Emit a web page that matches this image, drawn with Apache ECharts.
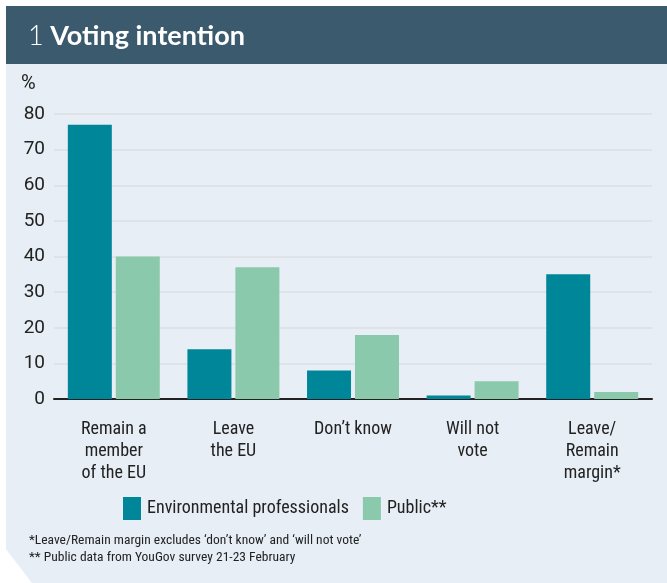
<!DOCTYPE html>
<html><head><meta charset="utf-8">
<script src="https://cdn.jsdelivr.net/npm/echarts@6/dist/echarts.min.js"></script>
<style>html,body{margin:0;padding:0;background:#fff}#c{width:667px;height:583px}</style>
</head><body><div id="c"></div>
<script>
const categories = ['Remain a\nmember\nof the EU', 'Leave\nthe EU', 'Don\u2019t know', 'Will not\nvote', 'Leave/\nRemain\nmargin*'];
const envProfessionals = [77, 14, 8, 1, 35];
const publicValues = [40, 37, 18, 5, 2];
const seriesNames = ['Environmental professionals', 'Public**'];
const yTicks = [0, 10, 20, 30, 40, 50, 60, 70, 80];
const footnotes = ['*Leave/Remain margin excludes \u2018don\u2019t know\u2019 and \u2018will not vote\u2019', '** Public data from YouGov survey 21-23 February'];

const FONT = '"Roboto Condensed", Roboto';
const chart = echarts.init(document.getElementById('c'), null, {renderer: 'canvas'});
chart.setOption({
  animation: false,
  backgroundColor: '#ffffff',
  graphic: [
    {type: 'polygon', z: -10, silent: true,
     shape: {points: [[6, 6], [667, 6], [667, 583], [32, 583], [6, 549]]},
     style: {fill: '#e7eef5'}},
    {type: 'rect', z: -9, silent: true, shape: {x: 6, y: 6, width: 661, height: 58}, style: {fill: '#3b5a6d'}},
    {type: 'text', left: 28, top: 23, style: {
      text: '{a|1}{b| Voting intention}',
      rich: {
        a: {fontFamily: 'Lato', fontWeight: 300, fontSize: 27, fill: '#ffffff'},
        b: {fontFamily: 'Lato', fontWeight: 'bold', fontSize: 27, fill: '#ffffff'}
      }}},
    {type: 'text', left: 21, top: 74, style: {text: '%', font: '20px Roboto', fill: '#222'}},
    {type: 'text', left: 29, top: 534, style: {text: footnotes[0], font: '13.5px ' + FONT, fill: '#222'}},
    {type: 'text', left: 29, top: 551, style: {text: footnotes[1], font: '13.5px ' + FONT, fill: '#222'}}
  ],
  grid: {left: 54, right: 15, top: 114, bottom: 184, containLabel: false},
  legend: {
    data: seriesNames,
    top: 492, left: 118,
    itemWidth: 18, itemHeight: 23, itemGap: 14,
    icon: 'rect',
    textStyle: {fontFamily: FONT, fontSize: 18, color: '#222', padding: [0, 0, 0, 1]}
  },
  xAxis: {
    type: 'category', data: categories,
    axisLine: {lineStyle: {color: '#222', width: 2}},
    axisTick: {show: false},
    axisLabel: {fontFamily: FONT, fontSize: 18, color: '#222', lineHeight: 22, margin: 19, interval: 0}
  },
  yAxis: {
    type: 'value', min: 0, max: 80, interval: 10,
    axisLine: {show: false}, axisTick: {show: false},
    axisLabel: {fontFamily: 'Roboto', fontSize: 19, color: '#222', margin: 9,
      formatter: v => yTicks.includes(v) ? String(v) : ''},
    splitLine: {lineStyle: {color: '#dcdfe2', width: 1.5}}
  },
  series: [
    {name: seriesNames[0], type: 'bar', data: envProfessionals, barWidth: 44, barGap: '9%',
     itemStyle: {color: '#008699'}},
    {name: seriesNames[1], type: 'bar', data: publicValues, barWidth: 44,
     itemStyle: {color: '#8bc9ac'}}
  ]
});
</script></body></html>
